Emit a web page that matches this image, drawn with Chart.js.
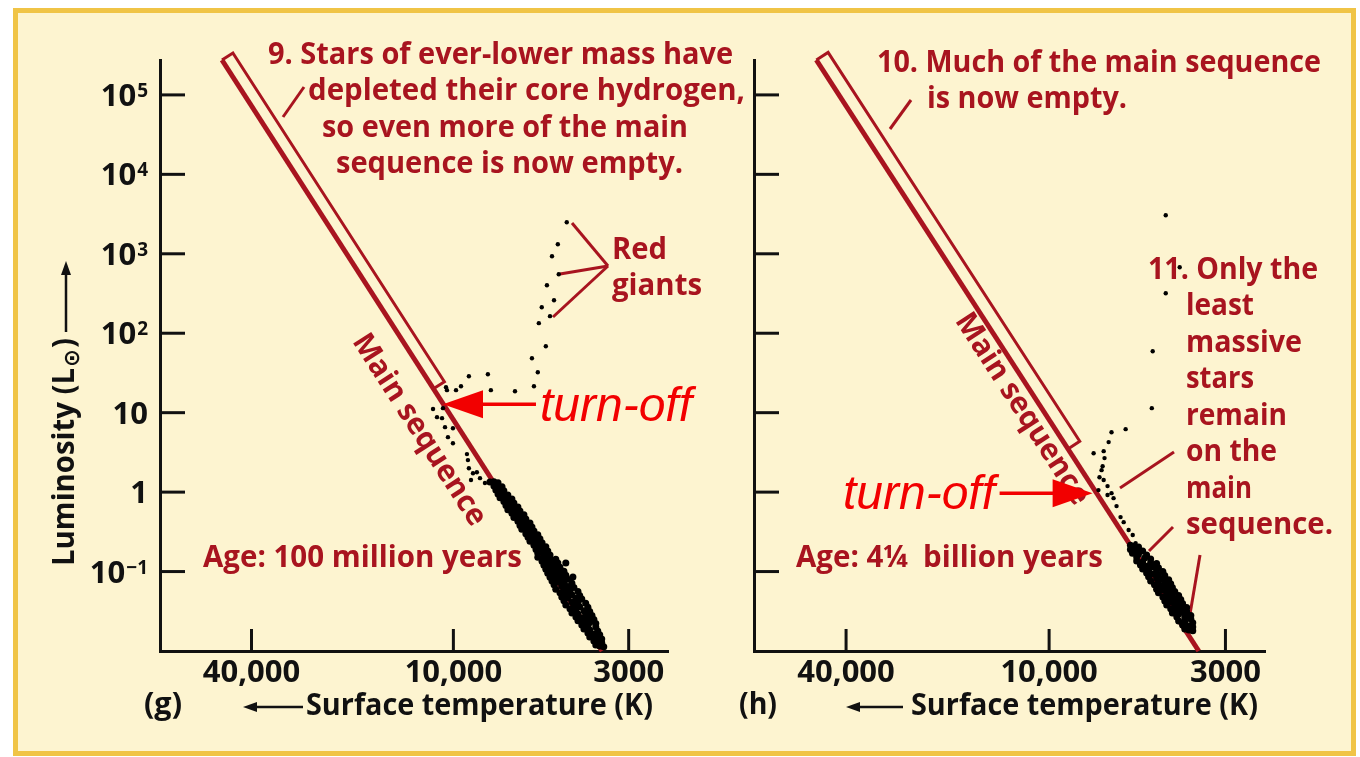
<!DOCTYPE html>
<html>
<head>
<meta charset="utf-8">
<script src="https://cdn.jsdelivr.net/npm/chart.js@4.4.1/dist/chart.umd.min.js"></script>
<style>
  html, body { margin: 0; background: #fff; }
  #frame {
    position: absolute; left: 13px; top: 8px; width: 1343px; height: 748px;
    box-sizing: border-box; border: 5px solid #F0C446; background: #FDF4D0;
  }
  canvas { position: absolute; left: 0; top: 0; }
</style>
</head>
<body>
<div id="frame"></div>
<canvas id="panelG" width="1360" height="757"></canvas>
<canvas id="panelH" width="1360" height="757"></canvas>
<script>
// axis ticks
const tempTicks = [40000, 10000, 3000];
const tempTickLabels = ["40,000", "10,000", "3000"];
const lumTicks = [1e5, 1e4, 1e3, 1e2, 10, 1, 0.1];
const lumTickBase = ["10", "10", "10", "10", "10", "1", "10"];
const lumTickExp = ["5", "4", "3", "2", "", "", "\u22121"];

// main sequence line, [surface temperature K, luminosity L_sun]
const msTemp = [49000, 3600];
const msLum = [275000, 0.01];

// (g) age 100 million years: lower main sequence (dense band)
const gDense = [
  [7780,1.34],[7570,1.35],[7360,1.31],
  [7570,1.19],[7360,1.20],[7160,1.17],
  [7470,1.06],[7260,1.06],[7070,1.04],
  [7360,0.95],[7070,0.94],[6880,0.92],
  [7260,0.85],[6970,0.84],[6690,0.82],
  [7070,0.76],[6780,0.75],[6600,0.73],
  [6970,0.68],[6690,0.667],[6420,0.65],
  [6880,0.60],[6600,0.594],[6330,0.58],
  [6690,0.54],[6420,0.529],[6160,0.52],
  [6600,0.48],[6330,0.471],[6080,0.46],
  [6420,0.43],[6160,0.420],[5910,0.41],
  [6330,0.38],[6080,0.374],[5830,0.365],
  [6250,0.34],[5990,0.333],[5750,0.325],
  [6080,0.30],[5830,0.297],[5600,0.29],
  [5990,0.27],[5750,0.264],[5520,0.258],
  [5910,0.24],[5670,0.235],[5440,0.23],
  [5750,0.214],[5520,0.21],[5300,0.205],
  [5670,0.19],[5440,0.187],[5230,0.182],
  [5600,0.17],[5370,0.166],[5150,0.162],
  [5600,0.151],[5370,0.148],[5150,0.146],[4950,0.143],
  [5440,0.135],[5230,0.132],[5080,0.130],[4880,0.128],
  [5370,0.12],[5150,0.117],[5010,0.116],[4810,0.113],
  [5300,0.107],[5080,0.105],[4880,0.103],[4680,0.101],
  [5230,0.095],[5010,0.093],[4810,0.092],[4620,0.090],
  [5150,0.085],[4950,0.083],[4750,0.082],[4560,0.080],
  [5080,0.076],[4880,0.074],[4680,0.073],[4430,0.071],
  [5010,0.068],[4750,0.066],[4560,0.065],[4370,0.063],
  [4950,0.060],[4680,0.0586],[4490,0.058],[4250,0.056],
  [4810,0.054],[4620,0.052],[4430,0.051],[4200,0.050],
  [4750,0.048],[4560,0.0465],[4310,0.046],[4140,0.045],
  [4680,0.043],[4430,0.0414],[4250,0.041],[4030,0.040],
  [4620,0.038],[4370,0.0369],[4200,0.036],[3970,0.0355],
  [4490,0.034],[4310,0.0328],[4080,0.032],[3920,0.0315],
  [4430,0.030],[4250,0.0292],[4030,0.0285],[3860,0.028],
  [4310,0.0268],[4140,0.026],[3970,0.0255],[3810,0.025],
  [4250,0.024],[4080,0.0232],[3920,0.0228],[3760,0.0222],
  [4140,0.0212],[3970,0.0206],[3760,0.0200],
  [4080,0.0189],[3920,0.0184],[3710,0.0178],
  [3970,0.0168],[3810,0.0164],[3660,0.0160],
  [3920,0.0150],[3760,0.0146],[3610,0.0142],
  [3810,0.0134],[3710,0.0130],[3610,0.0127],
  [3760,0.0119],[3660,0.0116],[3560,0.0113],
  [4620,0.128],[4400,0.0855]
];
// (g) turn-off region and red giants
const gSparse = [
  [4590,2490],[4880,1320],[5080,930],[4850,552],[5260,402],[5010,260],
  [5450,212],[5150,164],[5560,134],[5300,68.6],[5830,48.5],[5600,32.3],
  [5750,21.5],[6550,18.6],[7730,19.2],[7890,30.5],[8990,28.8],[9490,21.5],
  [9820,19.2],[10520,20.9],[10450,19.2],[10740,11.4],[11500,11.1],[11190,8.78],
  [10810,8.53],[10590,6.57],[10030,6.38],[10380,4.92],[10030,4.13],[9110,3.01],
  [9050,2.53],[8990,2.00],[8740,1.73],[8510,1.78],[8860,1.42],[8330,1.50],[8050,1.30]
];

// (h) age 4 1/4 billion years: lower main sequence (dense band)
const hDense = [
  [5740,0.215],[5580,0.2095],[5430,0.204],
  [5740,0.19],[5500,0.187],[5280,0.182],
  [5660,0.17],[5430,0.166],[5140,0.162],
  [5500,0.152],[5210,0.148],[5000,0.144],
  [5500,0.136],[5280,0.132],[5000,0.129],[4800,0.126],
  [5360,0.121],[5140,0.117],[4930,0.115],[4740,0.112],
  [5280,0.108],[5070,0.105],[4800,0.103],[4600,0.100],
  [5140,0.096],[4930,0.093],[4740,0.091],[4540,0.089],
  [5070,0.086],[4800,0.083],[4600,0.081],[4420,0.079],
  [5000,0.076],[4740,0.074],[4540,0.072],[4360,0.070],
  [4870,0.068],[4670,0.066],[4480,0.064],[4310,0.063],
  [4800,0.060],[4600,0.0586],[4420,0.057],[4240,0.056],
  [4740,0.054],[4480,0.052],[4310,0.051],[4130,0.050],
  [4600,0.048],[4420,0.0465],[4240,0.0455],[4070,0.0445],
  [4540,0.0425],[4360,0.0414],[4180,0.0405],[4020,0.0395],
  [4480,0.038],[4240,0.0369],[4070,0.036],[3910,0.0352],
  [4360,0.034],[4180,0.0328],[4020,0.032],[3910,0.0315],
  [4310,0.030],[4130,0.0292],[3960,0.0285],[3800,0.028],
  [4180,0.0267],[3960,0.026],[3800,0.0253],
  [4130,0.0238],[3960,0.0232],[3750,0.0226],
  [4020,0.0212],[3850,0.0206],[3750,0.0201],
  [3960,0.0189],[3850,0.0184],[3750,0.018]
];
// (h) turn-off region and red giants
const hSparse = [
  [4510,3050],[4100,676],[4510,319],[4930,59.4],[4960,11.4],[5930,6.2],
  [6530,5.68],[6660,4.26],[7380,3.09],[6890,3.28],[6850,2.68],[6940,2.12],
  [6990,1.89],[7090,1.54],[6890,1.42],[6710,1.19],[7140,1.06],[6710,0.92],
  [6530,0.97],[6440,0.84],[6310,0.667],[6140,0.485],[6010,0.419],[5810,0.333],
  [5650,0.288],[5540,0.228]
];

const DARK_RED = "#A8141F";
const RED = "#F20000";
const FONT = "'Open Sans', 'DejaVu Sans', sans-serif";

// layout of the annotations for each panel (pixels)
const panels = {
  panelG: {
    padLeft: 160, padRight: 692, yLabels: true,
    bracketTo: 20, bracketGap: 13,
    msText: [419, 430],
    texts: [
      ["9. Stars of ever-lower mass have", 268, 64, 465],
      ["depleted their core hydrogen,", 308, 100, 437],
      ["so even more of the main", 322, 137, 366],
      ["sequence is now empty.", 336, 173, 347],
      ["Red", 612, 259, 55],
      ["giants", 612, 295, 90],
      ["Age: 100 million years", 203, 567, 319]
    ],
    leaders: [[283,117,304,87],[608,266,572,223],[608,266,560,274],[608,266,553,317]],
    turnOff: {T: 10740, L: 12.8, dir: 1, textX: 540, textY: 421},
    letter: "(g)", letterX: 144, arrow: [303, 243], titleX: 306
  },
  panelH: {
    padLeft: 754, padRight: 95, yLabels: false,
    bracketTo: 3.5, bracketGap: 14,
    msText: [1022, 409],
    texts: [
      ["10. Much of the main sequence", 877, 72, 444],
      ["is now empty.", 927, 108, 200],
      ["11. Only the", 1148, 279, 170],
      ["least", 1186, 315, 68],
      ["massive", 1186, 352, 116],
      ["stars", 1186, 388, 68],
      ["remain", 1186, 425, 101],
      ["on the", 1186, 461, 91],
      ["main", 1186, 498, 66],
      ["sequence.", 1186, 534, 147],
      ["Age: 4\u00BC  billion years", 796, 567, 307]
    ],
    leaders: [[890,129,911,100],[1120,488,1174,452],[1149,551,1173,527],[1200,555,1189,620]],
    turnOff: {T: 7430, L: 0.97, dir: -1, textX: 843, textY: 509},
    letter: "(h)", letterX: 739, arrow: [903, 846], titleX: 911
  }
};

function fitText(ctx, str, x, y, width, font, color) {
  ctx.save();
  ctx.font = font;
  ctx.fillStyle = color;
  ctx.textAlign = "left";
  ctx.textBaseline = "alphabetic";
  const w = ctx.measureText(str).width;
  ctx.translate(x, y);
  ctx.scale(width ? width / w : 1, 1);
  ctx.fillText(str, 0, 0);
  ctx.restore();
}

function line(ctx, x1, y1, x2, y2, w, color) {
  ctx.save();
  ctx.strokeStyle = color;
  ctx.lineWidth = w;
  ctx.beginPath();
  ctx.moveTo(x1, y1);
  ctx.lineTo(x2, y2);
  ctx.stroke();
  ctx.restore();
}

function msPixels(chart) {
  const xs = chart.scales.x, ys = chart.scales.y;
  return [xs.getPixelForValue(msTemp[0]), ys.getPixelForValue(msLum[0]),
          xs.getPixelForValue(msTemp[1]), ys.getPixelForValue(msLum[1])];
}

const hrDecor = {
  id: "hrDecor",
  beforeDatasetsDraw(chart) {
    const p = panels[chart.canvas.id];
    const ctx = chart.ctx;
    const ys = chart.scales.y;
    const [x0, y0, x1, y1] = msPixels(chart);
    const len = Math.hypot(x1 - x0, y1 - y0);
    const ux = (x1 - x0) / len, uy = (y1 - y0) / len;
    const nx = uy, ny = -ux;

    // emptied part of the main sequence
    const yb = ys.getPixelForValue(p.bracketTo);
    const xb = x0 + (yb - y0) * (x1 - x0) / (y1 - y0);
    const g = p.bracketGap;
    ctx.save();
    ctx.strokeStyle = DARK_RED;
    ctx.lineWidth = 3;
    ctx.beginPath();
    ctx.moveTo(x0, y0);
    ctx.lineTo(x0 + nx * g, y0 + ny * g);
    ctx.lineTo(xb + nx * g, yb + ny * g);
    ctx.lineTo(xb, yb);
    ctx.stroke();
    ctx.restore();

    // "Main sequence" along the line
    ctx.save();
    ctx.translate(p.msText[0], p.msText[1]);
    ctx.rotate(Math.atan2(y1 - y0, x1 - x0));
    ctx.font = "bold 30px " + FONT;
    const w = ctx.measureText("Main sequence").width;
    ctx.scale(222 / w, 1);
    ctx.fillStyle = DARK_RED;
    ctx.textAlign = "center";
    ctx.textBaseline = "middle";
    ctx.fillText("Main sequence", 0, 0);
    ctx.restore();

    p.texts.forEach(t => fitText(ctx, t[0], t[1], t[2], t[3], "bold 30px " + FONT, DARK_RED));
    p.leaders.forEach(l => line(ctx, l[0], l[1], l[2], l[3], 3, DARK_RED));
  },
  afterDatasetsDraw(chart) {
    const p = panels[chart.canvas.id];
    const ctx = chart.ctx;
    const t = p.turnOff;
    const tx = chart.scales.x.getPixelForValue(t.T);
    const ty = chart.scales.y.getPixelForValue(t.L);
    const d = t.dir;
    line(ctx, tx + d * 36, ty, tx + d * 93, ty, 3.5, RED);
    ctx.save();
    ctx.fillStyle = RED;
    ctx.beginPath();
    ctx.moveTo(tx, ty);
    ctx.lineTo(tx + d * 40, ty - 14);
    ctx.lineTo(tx + d * 40, ty + 14);
    ctx.closePath();
    ctx.fill();
    ctx.restore();
    fitText(ctx, "turn-off", t.textX, t.textY, 152, "italic 48px 'Liberation Sans', Arial, sans-serif", RED);
  },
  afterDraw(chart) {
    const p = panels[chart.canvas.id];
    const ctx = chart.ctx;
    const xs = chart.scales.x, ys = chart.scales.y;
    const area = chart.chartArea;

    // inward tick marks
    xs.ticks.forEach(tk => {
      const x = xs.getPixelForValue(tk.value);
      line(ctx, x, area.bottom, x, area.bottom - 22, 3, "#111");
    });
    ys.ticks.forEach((tk, i) => {
      const y = ys.getPixelForValue(tk.value);
      line(ctx, area.left, y, area.left + 25, y, 3, "#111");
      if (!p.yLabels) return;
      ctx.save();
      ctx.fillStyle = "#111";
      ctx.textBaseline = "alphabetic";
      ctx.textAlign = "left";
      ctx.font = "bold 19px " + FONT;
      const exp = lumTickExp[i];
      const we = exp ? ctx.measureText(exp).width + 1 : 0;
      if (exp) ctx.fillText(exp, 148 - we + 1, y + 2);
      ctx.font = "bold 31px " + FONT;
      const wb = ctx.measureText(lumTickBase[i]).width;
      ctx.fillText(lumTickBase[i], 148 - we - wb, y + 11);
      ctx.restore();
    });

    // x-axis title
    fitText(ctx, p.letter, p.letterX, 714, 38, "bold 30px " + FONT, "#111");
    const [ax1, ax2] = p.arrow;
    line(ctx, ax1, 707, ax2 + 10, 707, 2.5, "#111");
    ctx.save();
    ctx.fillStyle = "#111";
    ctx.beginPath();
    ctx.moveTo(ax2, 707);
    ctx.lineTo(ax2 + 14, 702);
    ctx.lineTo(ax2 + 14, 712);
    ctx.closePath();
    ctx.fill();
    ctx.restore();
    fitText(ctx, "Surface temperature (K)", p.titleX, 715, 347, "bold 30px " + FONT, "#111");

    // y-axis title
    if (p.yLabels) {
      ctx.save();
      ctx.translate(74, 566);
      ctx.rotate(-Math.PI / 2);
      ctx.fillStyle = "#111";
      ctx.textBaseline = "alphabetic";
      ctx.font = "bold 30px " + FONT;
      const w1 = ctx.measureText("Luminosity (L").width;
      ctx.font = "bold 22px 'DejaVu Sans', sans-serif";
      const w2 = ctx.measureText("\u2299").width;
      ctx.font = "bold 30px " + FONT;
      const w3 = ctx.measureText(")").width;
      const s = 228 / (w1 + w2 + w3 + 2);
      ctx.scale(s, 1);
      ctx.fillText("Luminosity (L", 0, 0);
      ctx.font = "bold 22px 'DejaVu Sans', sans-serif";
      ctx.fillText("\u2299", w1 + 1, 5);
      ctx.font = "bold 30px " + FONT;
      ctx.fillText(")", w1 + w2 + 2, 0);
      ctx.restore();
      line(ctx, 66, 332, 66, 272, 2.5, "#111");
      ctx.save();
      ctx.fillStyle = "#111";
      ctx.beginPath();
      ctx.moveTo(66, 261);
      ctx.lineTo(61, 275);
      ctx.lineTo(71, 275);
      ctx.closePath();
      ctx.fill();
      ctx.restore();
    }
  }
};

const toXY = pts => pts.map(([t, l]) => ({ x: t, y: l }));

function makeChart(id, dense, sparse) {
  const p = panels[id];
  return new Chart(document.getElementById(id), {
    type: "scatter",
    data: {
      datasets: [
        { label: "Stars", data: toXY(dense), backgroundColor: "#000", borderWidth: 0, pointRadius: 3.5 },
        { label: "Evolved stars", data: toXY(sparse), backgroundColor: "#000", borderWidth: 0, pointRadius: 2.2 },
        {
          label: "Main sequence", type: "line",
          data: msTemp.map((t, i) => ({ x: t, y: msLum[i] })),
          borderColor: DARK_RED, borderWidth: 5, pointRadius: 0, showLine: true, clip: false
        }
      ]
    },
    options: {
      responsive: false,
      animation: false,
      layout: { padding: { left: p.padLeft, right: p.padRight, top: 60, bottom: 0 } },
      plugins: { legend: { display: false }, tooltip: { enabled: false } },
      scales: {
        x: {
          type: "logarithmic", reverse: true, min: 2290, max: 75000,
          grid: { display: false, drawTicks: false },
          border: { display: true, color: "#111", width: 3 },
          afterBuildTicks: s => { s.ticks = tempTicks.map(v => ({ value: v })); },
          afterFit: s => { s.height = 106; },
          ticks: {
            autoSkip: false, maxRotation: 0, padding: 4, color: "#111",
            font: { family: FONT, weight: "bold", size: 31 },
            callback: (v, i) => tempTickLabels[i]
          }
        },
        y: {
          type: "logarithmic", min: 0.01, max: 275000,
          grid: { display: false, drawTicks: false },
          border: { display: true, color: "#111", width: 3 },
          afterBuildTicks: s => { s.ticks = lumTicks.map(v => ({ value: v })); },
          afterFit: s => { s.width = 0; },
          ticks: { display: false }
        }
      }
    },
    plugins: [hrDecor]
  });
}

makeChart("panelG", gDense, gSparse);
makeChart("panelH", hDense, hSparse);
</script>
</body>
</html>
